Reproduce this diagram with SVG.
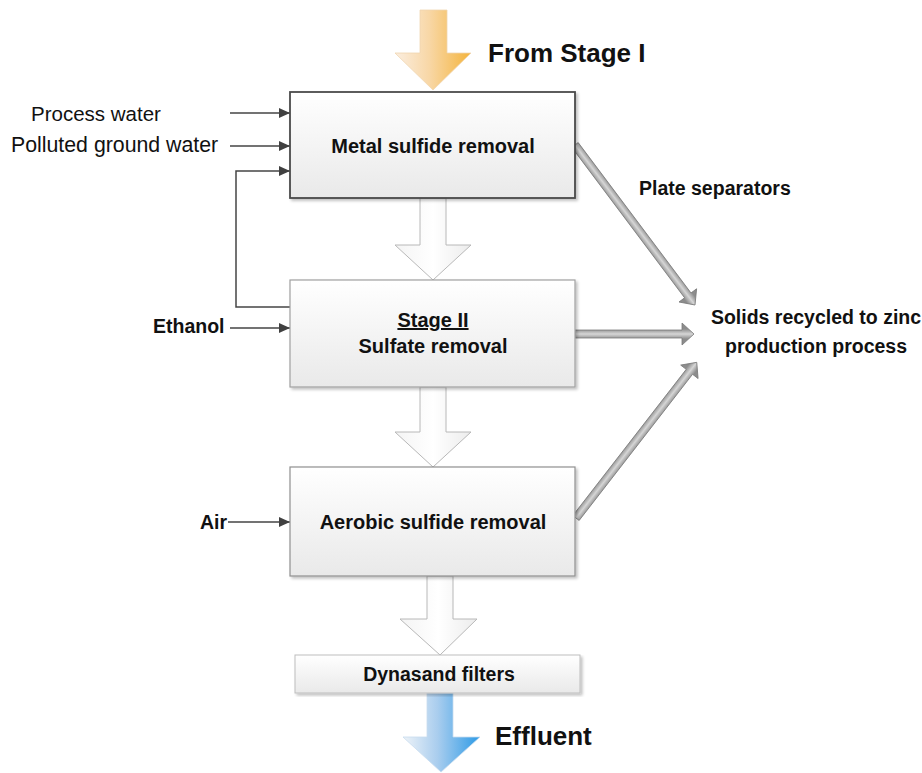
<svg xmlns="http://www.w3.org/2000/svg" width="922" height="773" viewBox="0 0 922 773">
<style>
  .lbl { font-family: "Liberation Sans", Arial, sans-serif; fill: #111; }
  .b { font-weight: bold; font-size: 19.5px; }
  .bb { font-weight: bold; font-size: 20px; }
  .big { font-weight: bold; font-size: 26px; }
  .reg { font-size: 20.5px; }
  .box { fill: url(#boxg); }
  .thin { fill: none; stroke: #454545; stroke-width: 1.5; marker-end: url(#ah); }
  .hollow { fill: url(#hollowg); stroke: #b8b8b8; stroke-width: 1; }
  .thick { fill: url(#thickg); stroke: #7a7a7a; stroke-width: 0.8; }
</style>
<defs>
  <linearGradient id="boxg" x1="0" y1="0" x2="0" y2="1">
    <stop offset="0" stop-color="#ffffff"/>
    <stop offset="1" stop-color="#e9e9e9"/>
  </linearGradient>
  <linearGradient id="hollowg" x1="0" y1="0" x2="1" y2="0">
    <stop offset="0" stop-color="#f4f4f4"/>
    <stop offset="0.5" stop-color="#ffffff"/>
    <stop offset="1" stop-color="#ececec"/>
  </linearGradient>
  <linearGradient id="orangeg" x1="0" y1="0" x2="1" y2="0">
    <stop offset="0" stop-color="#fbeee0"/>
    <stop offset="0.45" stop-color="#f8d7a6"/>
    <stop offset="1" stop-color="#f4b43c"/>
  </linearGradient>
  <linearGradient id="blueg" x1="0" y1="0" x2="1" y2="0">
    <stop offset="0" stop-color="#eef3f8"/>
    <stop offset="0.45" stop-color="#a9cdee"/>
    <stop offset="1" stop-color="#2c9ae6"/>
  </linearGradient>
  <linearGradient id="thickg" gradientUnits="userSpaceOnUse" x1="0" y1="-5" x2="0" y2="5">
    <stop offset="0" stop-color="#8c8c8c"/>
    <stop offset="0.5" stop-color="#d6d6d6"/>
    <stop offset="1" stop-color="#8c8c8c"/>
  </linearGradient>
  <marker id="ah" markerUnits="userSpaceOnUse" markerWidth="12" markerHeight="10" refX="11" refY="5" orient="auto">
    <path d="M0,0 L11,5 L0,10 z" fill="#404040"/>
  </marker>
  <filter id="sh" x="-5%" y="-5%" width="112%" height="115%">
    <feGaussianBlur in="SourceAlpha" stdDeviation="1.5"/>
    <feOffset dx="2" dy="2" result="o"/>
    <feComponentTransfer><feFuncA type="linear" slope="0.25"/></feComponentTransfer>
    <feMerge><feMergeNode/><feMergeNode in="SourceGraphic"/></feMerge>
  </filter>
</defs>
<rect width="922" height="773" fill="#ffffff"/>

<g id="connectors">
  <!-- top input arrow -->
  <path d="M420,10 H447 V53 H471 L433,90 L395,53 H420 Z" fill="url(#orangeg)" stroke="#f0d6b0" stroke-width="0.8"/>
  <!-- hollow flow arrows -->
  <path class="hollow" d="M420,198 H446 V245 H471 L433,280 L395,245 H420 Z"/>
  <path class="hollow" d="M420,387 H446 V432 H471 L433,467 L395,432 H420 Z"/>
  <path class="hollow" d="M427,576 H453 V619 H477 L440,655 L400,619 H427 Z"/>
  <!-- effluent arrow -->
  <path d="M427,693 H453 V737 H480 L441,772 L403,737 H427 Z" fill="url(#blueg)" stroke="#c8dcef" stroke-width="0.8"/>
  <!-- thin input arrows -->
  <path class="thin" d="M230,113 H290"/>
  <path class="thin" d="M230,146 H290"/>
  <path class="thin" d="M290,307 H236 V171 H290"/>
  <path class="thin" d="M230,328 H290"/>
  <path class="thin" d="M228,522 H290"/>
  <!-- thick gray solids arrows -->
  <path class="thick" transform="translate(575,145) rotate(53.13)" d="M0,-4 H188 V-11 L200,0 L188,11 V4 H0 Z"/>
  <path class="thick" transform="translate(575,334)" d="M0,-4 H107 V-11 L119,0 L107,11 V4 H0 Z"/>
  <path class="thick" transform="translate(576,518) rotate(-52.2)" d="M0,-4 H185 V-11 L197,0 L185,11 V4 H0 Z"/>
</g>

<g id="node-metal">
  <rect class="box" x="290" y="92" width="285" height="106" stroke="#4a4a4a" stroke-width="1.8" filter="url(#sh)"/>
  <text class="lbl bb" x="433" y="152.5" text-anchor="middle">Metal sulfide removal</text>
</g>
<g id="node-sulfate">
  <rect class="box" x="290" y="280" width="285" height="107" stroke="#a0a0a0" stroke-width="1.2" filter="url(#sh)"/>
  <text class="lbl bb" x="433" y="327" text-anchor="middle" text-decoration="underline">Stage II</text>
  <text class="lbl bb" x="433" y="353" text-anchor="middle">Sulfate removal</text>
</g>
<g id="node-aerobic">
  <rect class="box" x="290" y="467" width="285" height="109" stroke="#8f8f8f" stroke-width="1.2" filter="url(#sh)"/>
  <text class="lbl bb" x="433" y="529" text-anchor="middle">Aerobic sulfide removal</text>
</g>
<g id="node-dynasand">
  <rect class="box" x="295" y="655" width="285" height="38" stroke="#bdbdbd" stroke-width="1" filter="url(#sh)"/>
  <text class="lbl b" x="439" y="681" text-anchor="middle">Dynasand filters</text>
</g>

<g id="labels">
  <text class="lbl big" x="488" y="62">From Stage I</text>
  <text class="lbl reg" x="31" y="120.5">Process water</text>
  <text class="lbl reg" x="11" y="152" style="font-size:21.3px">Polluted ground water</text>
  <text class="lbl b" x="153" y="333">Ethanol</text>
  <text class="lbl b" x="200" y="529">Air</text>
  <text class="lbl b" x="639" y="195">Plate separators</text>
  <text class="lbl b" x="816" y="324" text-anchor="middle">Solids recycled to zinc</text>
  <text class="lbl b" x="816" y="353" text-anchor="middle">production process</text>
  <text class="lbl big" x="495" y="745">Effluent</text>
</g>
</svg>
